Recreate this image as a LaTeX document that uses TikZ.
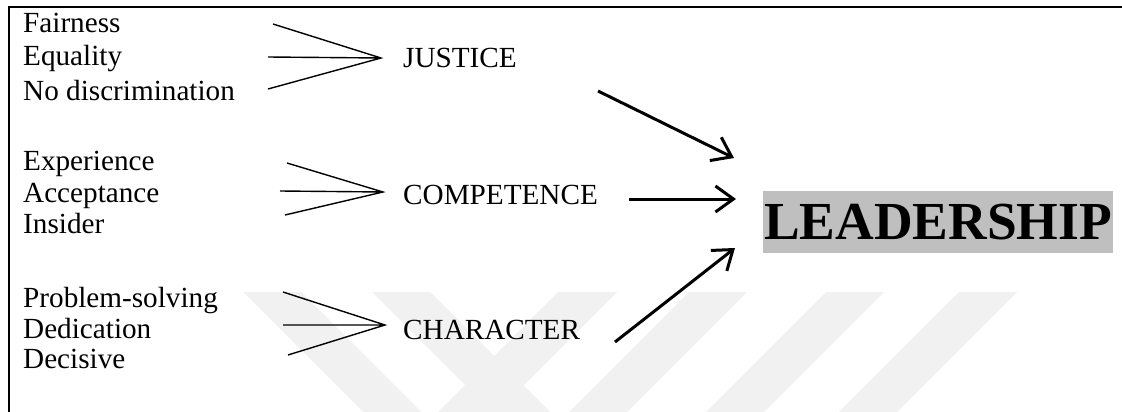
\documentclass[tikz,border=0pt]{standalone}
\usepackage{fontspec}
\setmainfont{Liberation Serif}
\usetikzlibrary{arrows.meta}
\definecolor{wm}{HTML}{F1F1F1}
\definecolor{leadgray}{HTML}{BFBFBF}
\begin{document}
\begin{tikzpicture}[x=1pt,y=-1pt,
  itemtext/.style={anchor=base west,inner sep=0pt,font=\fontsize{29.2}{33}\selectfont},
  labeltext/.style={anchor=base west,inner sep=0pt,font=\fontsize{29.2}{33}\selectfont},
  fanline/.style={line width=1.4pt},
  bigarrow/.style={line width=3pt,-{Straight Barb[length=18pt,width=26pt]}},
  band/.style={fill=wm,draw=none}]
\useasboundingbox (0,0) rectangle (1122,412);
\fill[white] (0,0) rectangle (1122,412);
% watermark bands
\fill[band] (243,292) -- (301,292) -- (421,412) -- (363,412) -- cycle;
\fill[band] (372,292) -- (430,292) -- (550,412) -- (492,412) -- cycle;
\fill[band] (558,292) -- (617,292) -- (497,412) -- (438,412) -- cycle;
\fill[band] (689,292) -- (747,292) -- (627,412) -- (569,412) -- cycle;
\fill[band] (826,292) -- (884,292) -- (764,412) -- (706,412) -- cycle;
\fill[band] (959,292) -- (1017,292) -- (897,412) -- (839,412) -- cycle;
% frame
\draw[line width=2pt] (9,412) -- (9,7.5) -- (1122,7.5);
% items
\node[itemtext] (fair) at (23,33) {Fairness};
\node[itemtext] (equal) at (23,66) {Equality};
\node[itemtext] (nodisc) at (23,100) {No discrimination};
\node[itemtext] (exp) at (23,170) {Experience};
\node[itemtext] (acc) at (23,202) {Acceptance};
\node[itemtext] (ins) at (23,233) {Insider};
\node[itemtext] (prob) at (23,307) {Problem-solving};
\node[itemtext] (ded) at (23,338) {Dedication};
\node[itemtext] (dec) at (23,368) {Decisive};
% labels
\node[labeltext] (justice) at (403,68) {JUSTICE};
\node[labeltext] (comp) at (403,204) {COMPETENCE};
\node[labeltext] (char) at (403,339) {CHARACTER};
% leadership
\node[fill=leadgray,minimum width=350pt,minimum height=62pt,inner sep=0pt,
      font=\fontsize{53.5}{60}\selectfont\bfseries] (lead) at (938,222) {LEADERSHIP};
% fan coordinates
\coordinate (ja) at (273,24);  \coordinate (jb) at (268,57);  \coordinate (jc) at (268,89);  \coordinate (jt) at (381,58);
\coordinate (ca) at (287,163); \coordinate (cb) at (280,191); \coordinate (cc) at (285,215); \coordinate (ct) at (383,192);
\coordinate (ha) at (283,292); \coordinate (hb) at (283,325); \coordinate (hc) at (288,355); \coordinate (ht) at (385,325);
\draw[fanline] (ja) -- (jt) -- (jc) (jb) -- (jt);
\draw[fanline] (ca) -- (ct) -- (cc) (cb) -- (ct);
\draw[fanline] (ha) -- (ht) -- (hc) (hb) -- (ht);
% big arrows
\coordinate (a1s) at (598,91);  \coordinate (a1e) at (734,158);
\coordinate (a2s) at (629,199); \coordinate (a2e) at (736,199);
\coordinate (a3s) at (615,342); \coordinate (a3e) at (735,248);
\draw[bigarrow] (a1s) -- (a1e);
\draw[bigarrow] (a2s) -- (a2e);
\draw[bigarrow] (a3s) -- (a3e);
\end{tikzpicture}
\end{document}
